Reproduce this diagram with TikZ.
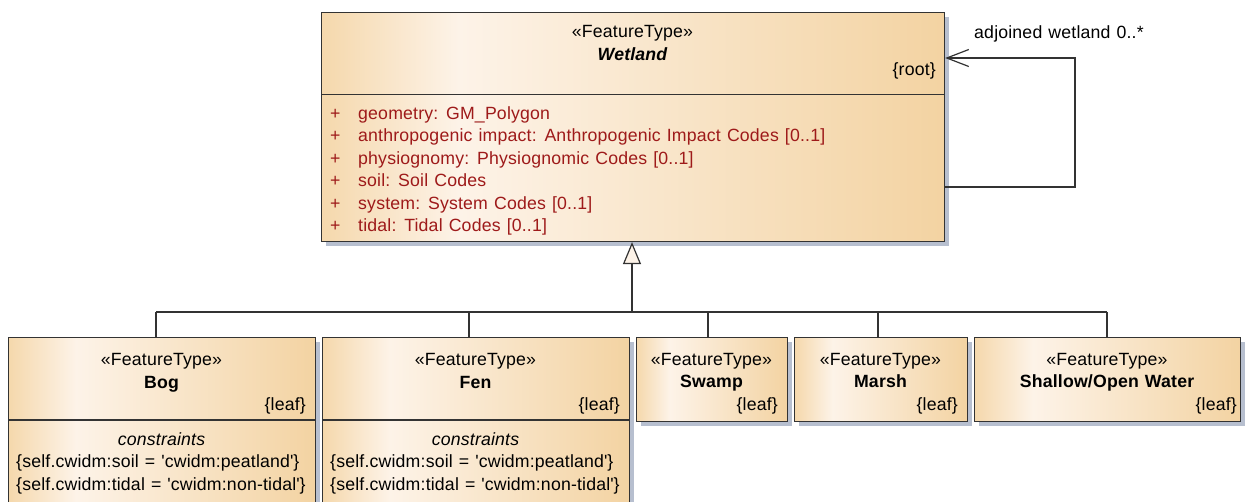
\documentclass[tikz,border=0pt]{standalone}
\usepackage{fontspec}
\setmainfont{Liberation Sans}[WordSpace=1.2, LetterSpace=1.0]
\usetikzlibrary{shadows,arrows.meta}
\definecolor{shadowc}{HTML}{B7BFCF}
\definecolor{ca}{HTML}{F5D8AC}
\definecolor{cb}{HTML}{FDF3E8}
\definecolor{cc}{HTML}{F3D3A2}
\definecolor{attrc}{HTML}{9E1A1A}
\definecolor{linec}{HTML}{333333}
\pgfdeclarehorizontalshading{umlshade}{100bp}{color(0bp)=(ca); color(25bp)=(ca); color(36bp)=(cb); color(75bp)=(cc); color(100bp)=(cc)}
\newcommand{\sq}{\textquotesingle}
\tikzset{
  umlbox/.style={draw=linec, line width=1.1pt, shade, shading=umlshade,
    general shadow={fill=shadowc, shadow xshift=4.5pt, shadow yshift=-4.5pt},
    inner sep=0pt, anchor=north west},
  txt/.style={inner sep=0pt, anchor=base, font=\fontsize{17.7}{22.5}\selectfont},
  txtl/.style={txt, anchor=base west},
  txtr/.style={txt, anchor=base east},
  attr/.style={txtl, text=attrc},
  divider/.style={draw=linec, line width=1.1pt},
  conn/.style={draw=linec, line width=1.2pt},
}
\begin{document}
\begin{tikzpicture}[x=1pt,y=-1pt]
\useasboundingbox (0,0) rectangle (1247,501);
% boxes
\node[umlbox, minimum width=623pt, minimum height=229pt] (wet) at (321,12) {};
\node[umlbox, minimum width=307pt, minimum height=200pt] (bog) at (8,337) {};
\node[umlbox, minimum width=307pt, minimum height=200pt] (fen) at (322,337) {};
\node[umlbox, minimum width=151pt, minimum height=84pt] (swamp) at (636,337) {};
\node[umlbox, minimum width=173pt, minimum height=84pt] (marsh) at (794,337) {};
\node[umlbox, minimum width=266pt, minimum height=84pt] (shallow) at (974,337) {};
% dividers
\draw[divider] (wet.west |- 0,94.5) -- (wet.east |- 0,94.5);
\draw[divider] (bog.west |- 0,420) -- (bog.east |- 0,420);
\draw[divider] (fen.west |- 0,420) -- (fen.east |- 0,420);
% Wetland texts
\node[txt] (wst) at (632.5,37.5) {«FeatureType»};
\node[txt, font=\fontsize{17.7}{22.5}\selectfont\bfseries\itshape] (wnm) at (632.5,60) {Wetland};
\node[txtr] (wrt) at (936,75) {\{root\}};
\node[attr] (p1) at (330,119.3) {+};
\node[attr] (a1) at (358,119.3) {geometry: GM\_Polygon};
\node[attr] (p2) at (330,141.8) {+};
\node[attr] (a2) at (358,141.8) {anthropogenic impact: Anthropogenic Impact Codes [0..1]};
\node[attr] (p3) at (330,164.3) {+};
\node[attr] (a3) at (358,164.3) {physiognomy: Physiognomic Codes [0..1]};
\node[attr] (p4) at (330,186.8) {+};
\node[attr] (a4) at (358,186.8) {soil: Soil Codes};
\node[attr] (p5) at (330,209.3) {+};
\node[attr] (a5) at (358,209.3) {system: System Codes [0..1]};
\node[attr] (p6) at (330,231.8) {+};
\node[attr] (a6) at (358,231.8) {tidal: Tidal Codes [0..1]};
% Bog
\node[txt] (bst) at (161.5,365) {«FeatureType»};
\node[txt, font=\fontsize{17.7}{22.5}\selectfont\bfseries] (bnm) at (161.5,388) {Bog};
\node[txtr] (blf) at (306,410) {\{leaf\}};
\node[txt, font=\fontsize{17.7}{22.5}\selectfont\itshape] (bcs) at (161.5,445) {constraints};
\node[txtl] (bc1) at (16,467.7) {\{self.cwidm:soil = \sq cwidm:peatland\sq\}};
\node[txtl] (bc2) at (16,490) {\{self.cwidm:tidal = \sq cwidm:non-tidal\sq\}};
% Fen
\node[txt] (fst) at (475.5,365) {«FeatureType»};
\node[txt, font=\fontsize{17.7}{22.5}\selectfont\bfseries] (fnm) at (475.5,388) {Fen};
\node[txtr] (flf) at (620,410) {\{leaf\}};
\node[txt, font=\fontsize{17.7}{22.5}\selectfont\itshape] (fcs) at (475.5,445) {constraints};
\node[txtl] (fc1) at (330,467.7) {\{self.cwidm:soil = \sq cwidm:peatland\sq\}};
\node[txtl] (fc2) at (330,490) {\{self.cwidm:tidal = \sq cwidm:non-tidal\sq\}};
% Swamp
\node[txt] (sst) at (711.5,365) {«FeatureType»};
\node[txt, font=\fontsize{17.7}{22.5}\selectfont\bfseries] (snm) at (711.5,387) {Swamp};
\node[txtr] (slf) at (778,410) {\{leaf\}};
% Marsh
\node[txt] (mst) at (880.5,365) {«FeatureType»};
\node[txt, font=\fontsize{17.7}{22.5}\selectfont\bfseries] (mnm) at (880.5,387) {Marsh};
\node[txtr] (mlf) at (958,410) {\{leaf\}};
% Shallow
\node[txt] (ost) at (1107,365) {«FeatureType»};
\node[txt, font=\fontsize{17.7}{22.5}\selectfont\bfseries] (onm) at (1107,387) {Shallow/Open Water};
\node[txtr] (olf) at (1237,410) {\{leaf\}};
% generalization
\coordinate (gj) at (632,312);
\coordinate (h1) at (156,312);
\coordinate (h2) at (469,312);
\coordinate (h3) at (708,312);
\coordinate (h4) at (878,312);
\coordinate (h5) at (1107,312);
\draw[conn] (h1) -- (h5);
\draw[conn] (h1) -- (h1 |- bog.north);
\draw[conn] (h2) -- (h2 |- fen.north);
\draw[conn] (h3) -- (h3 |- swamp.north);
\draw[conn] (h4) -- (h4 |- marsh.north);
\draw[conn] (h5) -- (h5 |- shallow.north);
\draw[conn, -{Triangle[length=22pt, width=18pt, fill=cb, line width=1.2pt]}] (gj) -- (gj |- wet.south);
% self association
\coordinate (s1) at (1075,187);
\coordinate (s2) at (1075,58);
\draw[conn, -{Straight Barb[length=22pt, width=17pt, line width=1.2pt]}] (wet.east |- s1) -- (s1) -- (s2) -- (wet.east |- s2);
\node[txtl] (salbl) at (974,38) {adjoined wetland 0..*};
\end{tikzpicture}
\end{document}
